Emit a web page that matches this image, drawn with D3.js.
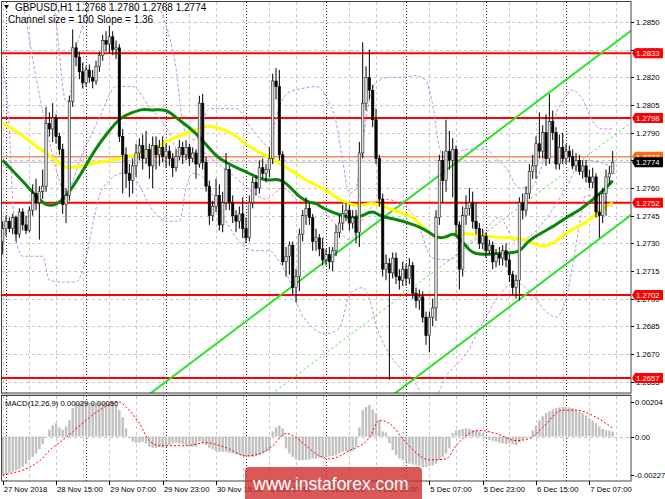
<!DOCTYPE html>
<html><head><meta charset="utf-8">
<script src="https://cdn.jsdelivr.net/npm/d3@7"></script>
<style>
body{margin:0;background:#fff}
svg{display:block}
text{font-family:'Liberation Sans',Arial,sans-serif}
</style></head>
<body><svg id="c" width="665" height="499"></svg>
<script>
// ---------- data ----------
const symbolTitle = "GBPUSD,H1";
const lastBar = ["1.2768","1.2780","1.2768","1.2774"];
const channelText = "Channel size = 100  Slope = 1.36";
const macdText = "MACD(12,26,9) 0.00029 0.00050";

const opens = [
1.2731,1.2738,1.2742,1.2738,1.2744,1.2735,1.2747,1.2740,1.2737,1.2748,
1.2757,1.2752,1.2758,1.2761,1.2795,1.2792,1.2798,1.2788,1.2781,1.2751,
1.2756,1.2807,1.2836,1.2831,1.2823,1.2817,1.2824,1.2820,1.2818,1.2826,
1.2832,1.2840,1.2838,1.2842,1.2835,1.2836,1.2788,1.2778,1.2768,1.2764,
1.2772,1.2779,1.2783,1.2776,1.2781,1.2772,1.2783,1.2778,1.2782,1.2777,
1.2780,1.2776,1.2771,1.2777,1.2782,1.2778,1.2782,1.2776,1.2779,1.2773,
1.2806,1.2774,1.2761,1.2745,1.2750,1.2756,1.2740,1.2752,1.2770,1.2752,
1.2745,1.2742,1.2746,1.2738,1.2733,1.2752,1.2763,1.2760,1.2771,1.2768,
1.2770,1.2776,1.2818,1.2815,1.2778,1.2720,1.2723,1.2729,1.2706,1.2712,
1.2735,1.2745,1.2749,1.2744,1.2731,1.2733,1.2727,1.2721,1.2724,1.2720,
1.2726,1.2736,1.2741,1.2746,1.2748,1.2741,1.2744,1.2736,1.2779,1.2806,
1.2820,1.2813,1.2797,1.2776,1.2754,1.2716,1.2719,1.2714,1.2722,1.2712,
1.2710,1.2716,1.2711,1.2718,1.2703,1.2699,1.2701,1.2690,1.2680,1.2690,
1.2695,1.2744,1.2775,1.2764,1.2780,1.2775,1.2781,1.2740,1.2716,1.2745,
1.2749,1.2752,1.2742,1.2738,1.2730,1.2734,1.2726,1.2729,1.2720,1.2724,
1.2722,1.2726,1.2721,1.2713,1.2706,1.2710,1.2752,1.2748,1.2757,1.2769,
1.2772,1.2784,1.2780,1.2790,1.2776,1.2796,1.2790,1.2773,1.2782,1.2776,
1.2780,1.2777,1.2772,1.2775,1.2769,1.2772,1.2766,1.2763,1.2766,1.2747,
1.2745,1.2757,1.2766,1.2768];
const highs = [
1.2742,1.2745,1.2744,1.2746,1.2745,1.2749,1.2749,1.2745,1.2750,1.2762,
1.2765,1.2761,1.2770,1.2804,1.2801,1.2806,1.2800,1.2790,1.2784,1.2760,
1.2810,1.2846,1.2839,1.2834,1.2828,1.2826,1.2827,1.2824,1.2829,1.2834,
1.2843,1.2845,1.2848,1.2845,1.2840,1.2838,1.2792,1.2782,1.2773,1.2776,
1.2784,1.2787,1.2789,1.2791,1.2784,1.2788,1.2788,1.2786,1.2788,1.2784,
1.2783,1.2779,1.2781,1.2786,1.2785,1.2786,1.2784,1.2782,1.2781,1.2810,
1.2811,1.2777,1.2764,1.2753,1.2765,1.2762,1.2758,1.2779,1.2772,1.2756,
1.2748,1.2750,1.2755,1.2744,1.2756,1.2766,1.2767,1.2775,1.2776,1.2773,
1.2782,1.2822,1.2825,1.2824,1.2780,1.2728,1.2731,1.2731,1.2716,1.2738,
1.2748,1.2755,1.2752,1.2746,1.2738,1.2735,1.2733,1.2727,1.2728,1.2728,
1.2740,1.2745,1.2751,1.2752,1.2751,1.2748,1.2748,1.2785,1.2839,1.2826,
1.2835,1.2816,1.2803,1.2778,1.2757,1.2724,1.2722,1.2725,1.2725,1.2716,
1.2720,1.2719,1.2722,1.2720,1.2706,1.2705,1.2704,1.2693,1.2693,1.2700,
1.2748,1.2778,1.2780,1.2797,1.2791,1.2787,1.2783,1.2742,1.2750,1.2756,
1.2760,1.2758,1.2752,1.2741,1.2738,1.2736,1.2732,1.2731,1.2727,1.2728,
1.2729,1.2730,1.2724,1.2715,1.2713,1.2755,1.2757,1.2761,1.2773,1.2778,
1.2788,1.2801,1.2794,1.2800,1.2811,1.2802,1.2793,1.2789,1.2790,1.2784,
1.2783,1.2781,1.2779,1.2778,1.2775,1.2775,1.2770,1.2771,1.2768,1.2757,
1.2760,1.2770,1.2772,1.2780];
const lows = [
1.2724,1.2734,1.2736,1.2735,1.2731,1.2733,1.2737,1.2735,1.2736,1.2745,
1.2748,1.2732,1.2754,1.2758,1.2788,1.2785,1.2784,1.2778,1.2746,1.2741,
1.2753,1.2804,1.2826,1.2819,1.2814,1.2815,1.2817,1.2814,1.2816,1.2823,
1.2829,1.2834,1.2833,1.2832,1.2830,1.2785,1.2757,1.2760,1.2755,1.2757,
1.2766,1.2775,1.2770,1.2773,1.2765,1.2760,1.2770,1.2772,1.2774,1.2771,
1.2772,1.2766,1.2769,1.2775,1.2773,1.2775,1.2772,1.2774,1.2765,1.2771,
1.2770,1.2758,1.2740,1.2742,1.2747,1.2737,1.2736,1.2748,1.2748,1.2741,
1.2736,1.2738,1.2733,1.2730,1.2731,1.2749,1.2756,1.2757,1.2765,1.2763,
1.2766,1.2773,1.2808,1.2775,1.2718,1.2712,1.2713,1.2702,1.2698,1.2704,
1.2731,1.2740,1.2740,1.2726,1.2726,1.2723,1.2718,1.2718,1.2716,1.2715,
1.2723,1.2733,1.2737,1.2742,1.2737,1.2738,1.2730,1.2728,1.2776,1.2802,
1.2808,1.2793,1.2773,1.2750,1.2712,1.2710,1.2656,1.2711,1.2708,1.2705,
1.2707,1.2707,1.2708,1.2700,1.2695,1.2694,1.2687,1.2675,1.2671,1.2685,
1.2688,1.2740,1.2752,1.2758,1.2770,1.2755,1.2735,1.2705,1.2712,1.2740,
1.2745,1.2738,1.2735,1.2727,1.2727,1.2722,1.2724,1.2716,1.2717,1.2718,
1.2718,1.2717,1.2709,1.2702,1.2700,1.2699,1.2743,1.2745,1.2754,1.2765,
1.2765,1.2776,1.2776,1.2772,1.2773,1.2786,1.2770,1.2770,1.2773,1.2773,
1.2774,1.2770,1.2769,1.2767,1.2765,1.2763,1.2760,1.2760,1.2744,1.2733,
1.2741,1.2745,1.2762,1.2768];
const closes = [
1.2738,1.2742,1.2738,1.2744,1.2735,1.2747,1.2740,1.2737,1.2748,1.2757,
1.2752,1.2758,1.2761,1.2795,1.2792,1.2798,1.2788,1.2781,1.2751,1.2756,
1.2807,1.2836,1.2831,1.2823,1.2817,1.2824,1.2820,1.2818,1.2826,1.2832,
1.2840,1.2838,1.2842,1.2835,1.2836,1.2788,1.2778,1.2768,1.2764,1.2772,
1.2779,1.2783,1.2776,1.2781,1.2772,1.2783,1.2778,1.2782,1.2777,1.2780,
1.2776,1.2771,1.2777,1.2782,1.2778,1.2782,1.2776,1.2779,1.2773,1.2806,
1.2774,1.2761,1.2745,1.2750,1.2756,1.2740,1.2752,1.2770,1.2752,1.2745,
1.2742,1.2746,1.2738,1.2733,1.2752,1.2763,1.2760,1.2771,1.2768,1.2770,
1.2776,1.2818,1.2815,1.2778,1.2720,1.2723,1.2729,1.2706,1.2712,1.2735,
1.2745,1.2749,1.2744,1.2731,1.2733,1.2727,1.2721,1.2724,1.2720,1.2726,
1.2736,1.2741,1.2746,1.2748,1.2741,1.2744,1.2736,1.2779,1.2806,1.2820,
1.2813,1.2797,1.2776,1.2754,1.2716,1.2719,1.2714,1.2722,1.2712,1.2710,
1.2716,1.2711,1.2718,1.2703,1.2699,1.2701,1.2690,1.2680,1.2690,1.2695,
1.2744,1.2775,1.2764,1.2780,1.2775,1.2781,1.2740,1.2716,1.2745,1.2749,
1.2752,1.2742,1.2738,1.2730,1.2734,1.2726,1.2729,1.2720,1.2724,1.2722,
1.2726,1.2721,1.2713,1.2706,1.2710,1.2752,1.2748,1.2757,1.2769,1.2772,
1.2784,1.2780,1.2790,1.2776,1.2796,1.2790,1.2773,1.2782,1.2776,1.2780,
1.2777,1.2772,1.2775,1.2769,1.2772,1.2766,1.2763,1.2766,1.2747,1.2745,
1.2757,1.2766,1.2768,1.2774];

// moving averages (sampled: bar index, price)
const greenMaIdx = [0,9,13,18,23,28,32,35,39,42,45,49,52,56,60,64,67,70,74,77,80,82,84,86,89,92,94,96,100,104,106,108,111,113,115,118,122,125,128,130,133,135,137,140,142,147,152,155,157,159,163,166,169,173,176,179,181,183];
const greenMaVal = [1.2775,1.2758,1.2749,1.2752,1.2766,1.2782,1.2791,1.2798,1.2801,1.2803,1.2802,1.2803,1.2798,1.2793,1.2786,1.2777,1.2774,1.2771,1.2768,1.2765,1.2764,1.2765,1.2764,1.2761,1.2755,1.2752,1.2752,1.2749,1.2746,1.2744,1.2744,1.2745,1.2748,1.2745,1.2744,1.2743,1.2741,1.2739,1.2736,1.2733,1.2733,1.2736,1.2733,1.2726,1.2724,1.2724,1.2725,1.2725,1.2730,1.2733,1.2737,1.2740,1.2744,1.2748,1.2752,1.2757,1.2760,1.2764];
const yellowMaIdx = [0,5,9,13,16,18,22,28,33,38,42,46,52,56,61,64,69,72,76,80,84,88,92,96,100,104,107,110,113,117,121,124,127,130,133,136,140,149,154,157,160,163,166,169,173,177,180,183];
const yellowMaVal = [1.2795,1.2790,1.2784,1.2779,1.2775,1.2771,1.2771,1.2774,1.2775,1.2777,1.2779,1.2782,1.2788,1.2790,1.2794,1.2793,1.2790,1.2785,1.2780,1.2777,1.2772,1.2768,1.2763,1.2760,1.2755,1.2751,1.2750,1.2752,1.2751,1.2748,1.2746,1.2743,1.2737,1.2733,1.2733,1.2736,1.2735,1.2733,1.2733,1.2732,1.2729,1.2728,1.2731,1.2736,1.2739,1.2744,1.2749,1.2752];

// Bollinger bands (sampled: bar index, price)
const bbUpIdx = [0,8,12,16,19,20,21,22,23,24,26,28,46,47,50,52,53,54,56,58,60,62,66,70,74,78,80,82,84,86,90,94,98,100,102,104,106,108,110,112,116,120,124,127,129,131,133,136,139,145,148,151,155,158,161,163,166,169,171,174,177,180,183];
const bbUpVal = [1.2950,1.2920,1.2890,1.2850,1.2807,1.2808,1.2825,1.2836,1.2842,1.2848,1.2858,1.2862,1.2862,1.2858,1.2842,1.2825,1.2809,1.2795,1.2787,1.2786,1.2796,1.2803,1.2803,1.2803,1.2794,1.2785,1.2782,1.2798,1.2808,1.2812,1.2814,1.2815,1.2806,1.2796,1.2775,1.2757,1.2760,1.2785,1.2808,1.2817,1.2820,1.2820,1.2821,1.2818,1.2805,1.2782,1.2775,1.2778,1.2781,1.2781,1.2776,1.2771,1.2760,1.2760,1.2768,1.2780,1.2800,1.2810,1.2813,1.2808,1.2796,1.2792,1.2792];
const bbMidIdx = [0,5,10,14,19,24,29,34,39,44,49,54,59,64,69,74,79,84,89,94,99,104,109,114,119,124,129,134,139,144,149,154,159,164,169,174,179,183];
const bbMidVal = [1.2900,1.2870,1.2820,1.2785,1.2758,1.2779,1.2798,1.2815,1.2815,1.2804,1.2793,1.2777,1.2780,1.2774,1.2767,1.2759,1.2754,1.2760,1.2753,1.2752,1.2742,1.2732,1.2746,1.2754,1.2752,1.2743,1.2722,1.2721,1.2729,1.2736,1.2744,1.2731,1.2735,1.2746,1.2760,1.2775,1.2774,1.2771];
const bbLoIdx = [0,2,3,4,6,12,14,18,22,25,27,29,32,36,40,45,49,53,55,57,60,63,66,69,72,76,80,83,86,89,92,97,101,104,106,108,110,112,116,119,123,126,129,131,133,136,139,142,145,149,153,155,159,163,166,169,171,173,175,178,181,183];
const bbLoVal = [1.2826,1.2791,1.2754,1.2732,1.2723,1.2723,1.2710,1.2709,1.2709,1.2722,1.2740,1.2756,1.2764,1.2768,1.2764,1.2748,1.2742,1.2742,1.2760,1.2768,1.2766,1.2756,1.2745,1.2736,1.2729,1.2726,1.2726,1.2720,1.2710,1.2694,1.2686,1.2681,1.2684,1.2702,1.2705,1.2706,1.2700,1.2686,1.2670,1.2663,1.2656,1.2648,1.2645,1.2650,1.2658,1.2664,1.2670,1.2680,1.2690,1.2702,1.2708,1.2708,1.2702,1.2693,1.2690,1.2700,1.2718,1.2740,1.2756,1.2755,1.2752,1.2750];

// regression channel
const channelStartIdx = 40, channelEndIdx = 189;
const channelEndMid = 1.2796, channelSlope = 0.0001364, channelHalf = 0.0050;

// horizontal levels
const redLevels = [1.2833,1.2798,1.2752,1.2702,1.2657];
const orangeLevel = 1.2777;
const bidLevel = 1.2774;

// axes
const priceTicks = [1.2850,1.2835,1.2820,1.2805,1.2790,1.2775,1.2760,1.2745,1.2730,1.2715,1.2700,1.2685,1.2670,1.2655];
const macdTicks = [0.00204,0,-0.00227];
const timeLabelIdx = [0,16,32,48,64,80,96,112,128,144,160,176];
const timeLabels = ["27 Nov 2018","28 Nov 15:00","29 Nov 07:00","29 Nov 23:00","30 Nov 15:00","3 Dec 07:00","3 Dec 23:00","4 Dec 15:00","5 Dec 07:00","5 Dec 23:00","6 Dec 15:00","7 Dec 07:00"];
const daySeparatorIdx = [1,25,49,73,97,121,145,169];

// MACD main (histogram) per bar
const macdMain = [
-0.00224,-0.00220,-0.00214,-0.00207,-0.00199,-0.00190,-0.00178,-0.00162,-0.00140,-0.00120,
-0.00100,-0.00075,-0.00045,-0.00005,0.00040,0.00066,0.00078,0.00054,0.00040,0.00060,
0.00096,0.00168,0.00198,0.00200,0.00203,0.00204,0.00201,0.00199,0.00202,0.00200,
0.00198,0.00201,0.00199,0.00196,0.00185,0.00156,0.00114,0.00048,-0.00010,-0.00030,
-0.00036,-0.00036,-0.00030,-0.00040,-0.00060,-0.00066,-0.00066,-0.00062,-0.00066,-0.00060,
-0.00050,-0.00040,-0.00036,-0.00040,-0.00045,-0.00050,-0.00055,-0.00060,-0.00060,-0.00030,
-0.00040,-0.00050,-0.00066,-0.00075,-0.00085,-0.00090,-0.00090,-0.00090,-0.00096,-0.00100,
-0.00105,-0.00110,-0.00115,-0.00120,-0.00120,-0.00120,-0.00115,-0.00110,-0.00100,-0.00090,
-0.00084,0.00030,0.00054,0.00066,0.00048,-0.00070,-0.00100,-0.00120,-0.00135,-0.00140,
-0.00140,-0.00138,-0.00135,-0.00130,-0.00130,-0.00125,-0.00125,-0.00120,-0.00118,-0.00115,
-0.00110,-0.00100,-0.00090,-0.00085,-0.00090,-0.00085,-0.00060,0.00054,0.00156,0.00174,
0.00186,0.00160,0.00138,0.00096,0.00030,0.00024,-0.00040,-0.00080,-0.00110,-0.00130,
-0.00140,-0.00150,-0.00160,-0.00165,-0.00170,-0.00175,-0.00180,-0.00180,-0.00175,-0.00170,
-0.00160,-0.00140,-0.00120,-0.00100,-0.00070,0.00020,0.00036,0.00040,0.00044,0.00048,
0.00046,0.00040,0.00036,0.00030,0.00020,-0.00010,-0.00020,-0.00025,-0.00030,-0.00036,
-0.00040,-0.00045,-0.00040,-0.00045,-0.00050,-0.00035,-0.00020,-0.00010,-0.00005,0.00036,
0.00066,0.00096,0.00120,0.00138,0.00150,0.00160,0.00168,0.00172,0.00174,0.00174,
0.00172,0.00168,0.00158,0.00148,0.00138,0.00125,0.00108,0.00095,0.00078,0.00060,
0.00045,0.00036,0.00034,0.00029];
// MACD signal (sampled)
const signalIdx = [0,11,14,19,25,29,35,37,41,44,47,55,61,67,73,77,81,85,87,91,95,98,104,110,113,116,120,124,128,133,136,140,143,148,154,158,162,168,172,178,183];
const signalVal = [-0.00227,-0.00144,-0.00084,-0.00006,0.00096,0.00156,0.00204,0.00174,0.00078,-0.00024,-0.00054,-0.00054,-0.00036,-0.00066,-0.00114,-0.00102,-0.00054,0.00018,0.00006,-0.00054,-0.00114,-0.00132,-0.00084,-0.00006,0.00096,0.00078,-0.00012,-0.00096,-0.00138,-0.00132,-0.00054,0.00018,0.00036,0.00018,-0.00024,-0.00012,0.00054,0.00156,0.00156,0.00114,0.00050];

// ---------- drawing ----------
const svg = d3.select('#c');
const P = {l:2, r:631, t:2, b:393};
const M = {t:396, b:481};
const x = d3.scaleLinear().domain([0,188]).range([2.7, 2.7+3.3333*188]);
const y = d3.scaleLinear().domain([1.2655,1.2850]).range([381.7,22]);
const ym = d3.scaleLinear().domain([-0.00227,0.00204]).range([475,402]);

const defs = svg.append('defs');
defs.append('clipPath').attr('id','cm').append('rect').attr('x',P.l).attr('y',P.t).attr('width',P.r-P.l).attr('height',P.b-P.t);
defs.append('clipPath').attr('id','cd').append('rect').attr('x',P.l).attr('y',M.t).attr('width',P.r-P.l).attr('height',M.b-M.t);

svg.append('rect').attr('width',665).attr('height',499).attr('fill','#fff');

const main = svg.append('g').attr('clip-path','url(#cm)');
const sub = svg.append('g').attr('clip-path','url(#cd)');
const gridCol = '#c8c8c8';

// grid
const gridIdx = d3.range(0,189,8);
[main, sub].forEach((g,k)=>{
  const t = k? M.t : P.t, b = k? M.b : P.b;
  g.selectAll('line.vg').data(gridIdx).join('line').attr('class','vg')
    .attr('x1',d=>Math.round(x(d))+0.5).attr('x2',d=>Math.round(x(d))+0.5).attr('y1',t).attr('y2',b)
    .attr('stroke',gridCol).attr('stroke-dasharray','3,3');
});
main.selectAll('line.hg').data(priceTicks).join('line').attr('class','hg')
  .attr('x1',P.l).attr('x2',P.r).attr('y1',d=>Math.round(y(d))+0.5).attr('y2',d=>Math.round(y(d))+0.5)
  .attr('stroke',gridCol).attr('stroke-dasharray','3,3');
sub.append('line').attr('x1',P.l).attr('x2',P.r).attr('y1',Math.round(ym(0))+0.5).attr('y2',Math.round(ym(0))+0.5)
  .attr('stroke',gridCol).attr('stroke-dasharray','3,3');

// day separators
[main, sub].forEach((g,k)=>{
  const t = k? M.t : P.t, b = k? M.b : P.b;
  g.selectAll('line.sep').data(daySeparatorIdx).join('line').attr('class','sep')
    .attr('x1',d=>Math.round(x(d))+0.5).attr('x2',d=>Math.round(x(d))+0.5).attr('y1',t).attr('y2',b)
    .attr('stroke','#333').attr('stroke-dasharray','1,2');
});

// horizontal levels
main.append('line').attr('x1',P.l).attr('x2',P.r).attr('y1',y(bidLevel)).attr('y2',y(bidLevel)).attr('stroke','#bdbdbd').attr('stroke-width',1);
main.append('line').attr('x1',P.l).attr('x2',P.r).attr('y1',y(orangeLevel)).attr('y2',y(orangeLevel)).attr('stroke','#ff8a5c').attr('stroke-width',1.5);
main.selectAll('line.lvl').data(redLevels).join('line').attr('class','lvl')
  .attr('x1',P.l).attr('x2',P.r).attr('y1',d=>y(d)).attr('y2',d=>y(d)).attr('stroke','#ff0000').attr('stroke-width',2);

// Bollinger bands
const bandLine = d3.line().x(d=>x(d[0])).y(d=>y(d[1])).curve(d3.curveMonotoneX);
[[bbUpIdx,bbUpVal],[bbMidIdx,bbMidVal],[bbLoIdx,bbLoVal]].forEach(([ix,vs])=>{
  main.append('path').attr('d',bandLine(ix.map((d,i)=>[d,vs[i]])))
    .attr('fill','none').attr('stroke','#c98ae8').attr('stroke-width',1).attr('stroke-dasharray','3,2');
});

// channel
const chan = (i,off)=> channelEndMid - channelSlope*(channelEndIdx-i) + off;
[[channelHalf,'solid'],[-channelHalf,'solid'],[0,'dash']].forEach(([off,st])=>{
  main.append('line').attr('x1',x(channelStartIdx)).attr('x2',x(channelEndIdx))
    .attr('y1',y(chan(channelStartIdx,off))).attr('y2',y(chan(channelEndIdx,off)))
    .attr('stroke','#2fe02f').attr('stroke-width',st==='solid'?2:1)
    .attr('stroke-dasharray',st==='solid'?null:'2,3');
});

// moving averages
const maLine = d3.line().x(d=>x(d[0])).y(d=>y(d[1])).curve(d3.curveBasis);
main.append('path').attr('d',maLine(yellowMaIdx.map((d,i)=>[d,yellowMaVal[i]])))
  .attr('fill','none').attr('stroke','#ffff00').attr('stroke-width',3).attr('stroke-linejoin','round');
main.append('path').attr('d',maLine(greenMaIdx.map((d,i)=>[d,greenMaVal[i]])))
  .attr('fill','none').attr('stroke','#0b860b').attr('stroke-width',3).attr('stroke-linejoin','round');

// candles
const idx = d3.range(opens.length);
const cg = main.append('g');
cg.selectAll('line.wick').data(idx).join('line').attr('class','wick')
  .attr('x1',i=>x(i)).attr('x2',i=>x(i)).attr('y1',i=>y(highs[i])).attr('y2',i=>y(lows[i]))
  .attr('stroke','#000').attr('stroke-width',1);
cg.selectAll('rect.body').data(idx).join('rect').attr('class','body')
  .attr('x',i=>x(i)-1.2).attr('width',2.4)
  .attr('y',i=>y(Math.max(opens[i],closes[i])))
  .attr('height',i=>Math.max(0.8, Math.abs(y(opens[i])-y(closes[i]))))
  .attr('fill',i=>closes[i]>=opens[i]?'#e0e0e0':'#000')
  .attr('stroke',i=>closes[i]>=opens[i]?'#222':'#000').attr('stroke-width',0.6);

// MACD
sub.selectAll('rect.h').data(idx).join('rect').attr('class','h')
  .attr('x',i=>x(i)-1.2).attr('width',2.4)
  .attr('y',i=>Math.min(ym(0),ym(macdMain[i])))
  .attr('height',i=>Math.abs(ym(macdMain[i])-ym(0)))
  .attr('fill','#c0c0c0');
const sigLine = d3.line().x(d=>x(d[0])).y(d=>ym(d[1])).curve(d3.curveMonotoneX);
sub.append('path').attr('d',sigLine(signalIdx.map((d,i)=>[d,signalVal[i]])))
  .attr('fill','none').attr('stroke','#ff0000').attr('stroke-width',1).attr('stroke-dasharray','2,2');

// frames
svg.append('rect').attr('x',1.5).attr('y',1.5).attr('width',P.r-1.5).attr('height',P.b-1.5).attr('fill','none').attr('stroke','#444');
svg.append('rect').attr('x',1.5).attr('y',M.t-0.5).attr('width',P.r-1.5).attr('height',M.b-M.t+0.5).attr('fill','none').attr('stroke','#444');
svg.append('line').attr('x1',1).attr('x2',P.r).attr('y1',P.b+1).attr('y2',P.b+1).attr('stroke','#888');

// right price axis
const fs = '7.7px';
const ax = svg.append('g');
ax.selectAll('line.pt').data(priceTicks).join('line').attr('class','pt')
  .attr('x1',P.r).attr('x2',P.r+3).attr('y1',d=>Math.round(y(d))+0.5).attr('y2',d=>Math.round(y(d))+0.5).attr('stroke','#000');
ax.selectAll('text.pt').data(priceTicks).join('text').attr('class','pt')
  .attr('x',P.r+5).attr('y',d=>y(d)+3).attr('font-size',fs).text(d=>d.toFixed(4));
ax.selectAll('line.mt').data(macdTicks).join('line').attr('class','mt')
  .attr('x1',P.r).attr('x2',P.r+3).attr('y1',d=>Math.round(ym(d))+0.5).attr('y2',d=>Math.round(ym(d))+0.5).attr('stroke','#000');
ax.selectAll('text.mt').data(macdTicks).join('text').attr('class','mt')
  .attr('x',P.r+4).attr('y',d=>ym(d)+3).attr('font-size',fs).text(d=>d===0?'0.00':d.toFixed(5));

// price tags
function tag(v, bg, fg){
  const g = svg.append('g');
  const yy = y(v);
  g.append('path').attr('d',`M${P.r+1},${yy} L${P.r+4},${yy-5} H663 V${yy+5} H${P.r+4} Z`).attr('fill',bg);
  g.append('text').attr('x',P.r+5).attr('y',yy+3).attr('font-size',fs).attr('fill',fg).text(v.toFixed(4));
}
redLevels.forEach(v=>tag(v,'#ff0000','#fff'));
tag(orangeLevel,'#ff6a1a','#fff');
tag(bidLevel,'#000','#fff');

// time axis
ax.selectAll('line.tt').data(timeLabelIdx).join('line').attr('class','tt')
  .attr('x1',d=>Math.round(x(d))+0.5).attr('x2',d=>Math.round(x(d))+0.5).attr('y1',M.b).attr('y2',M.b+4).attr('stroke','#000');
ax.selectAll('text.tt').data(timeLabelIdx).join('text').attr('class','tt')
  .attr('x',d=>x(d)+1).attr('y',M.b+11).attr('font-size',fs).text((d,i)=>timeLabels[i]);

// header texts
svg.append('path').attr('d','M4,5 L9,5 L6.5,9 Z').attr('fill','#000');
svg.append('text').attr('x',15).attr('y',11).attr('font-size','10px').text(`${symbolTitle}  ${lastBar.join(' ')}`);
svg.append('text').attr('x',8).attr('y',22.5).attr('font-size','10px').text(channelText);
svg.append('text').attr('x',5).attr('y',406).attr('font-size',fs).text(macdText);

// watermark
svg.append('rect').attr('x',245).attr('y',467).attr('width',177).attr('height',36).attr('rx',4)
  .attr('fill','#d03030').attr('opacity',0.8);
svg.append('text').attr('x',253).attr('y',490).attr('font-size','17.5px').attr('fill','#fff').text('www.instaforex.com');
</script></body></html>
